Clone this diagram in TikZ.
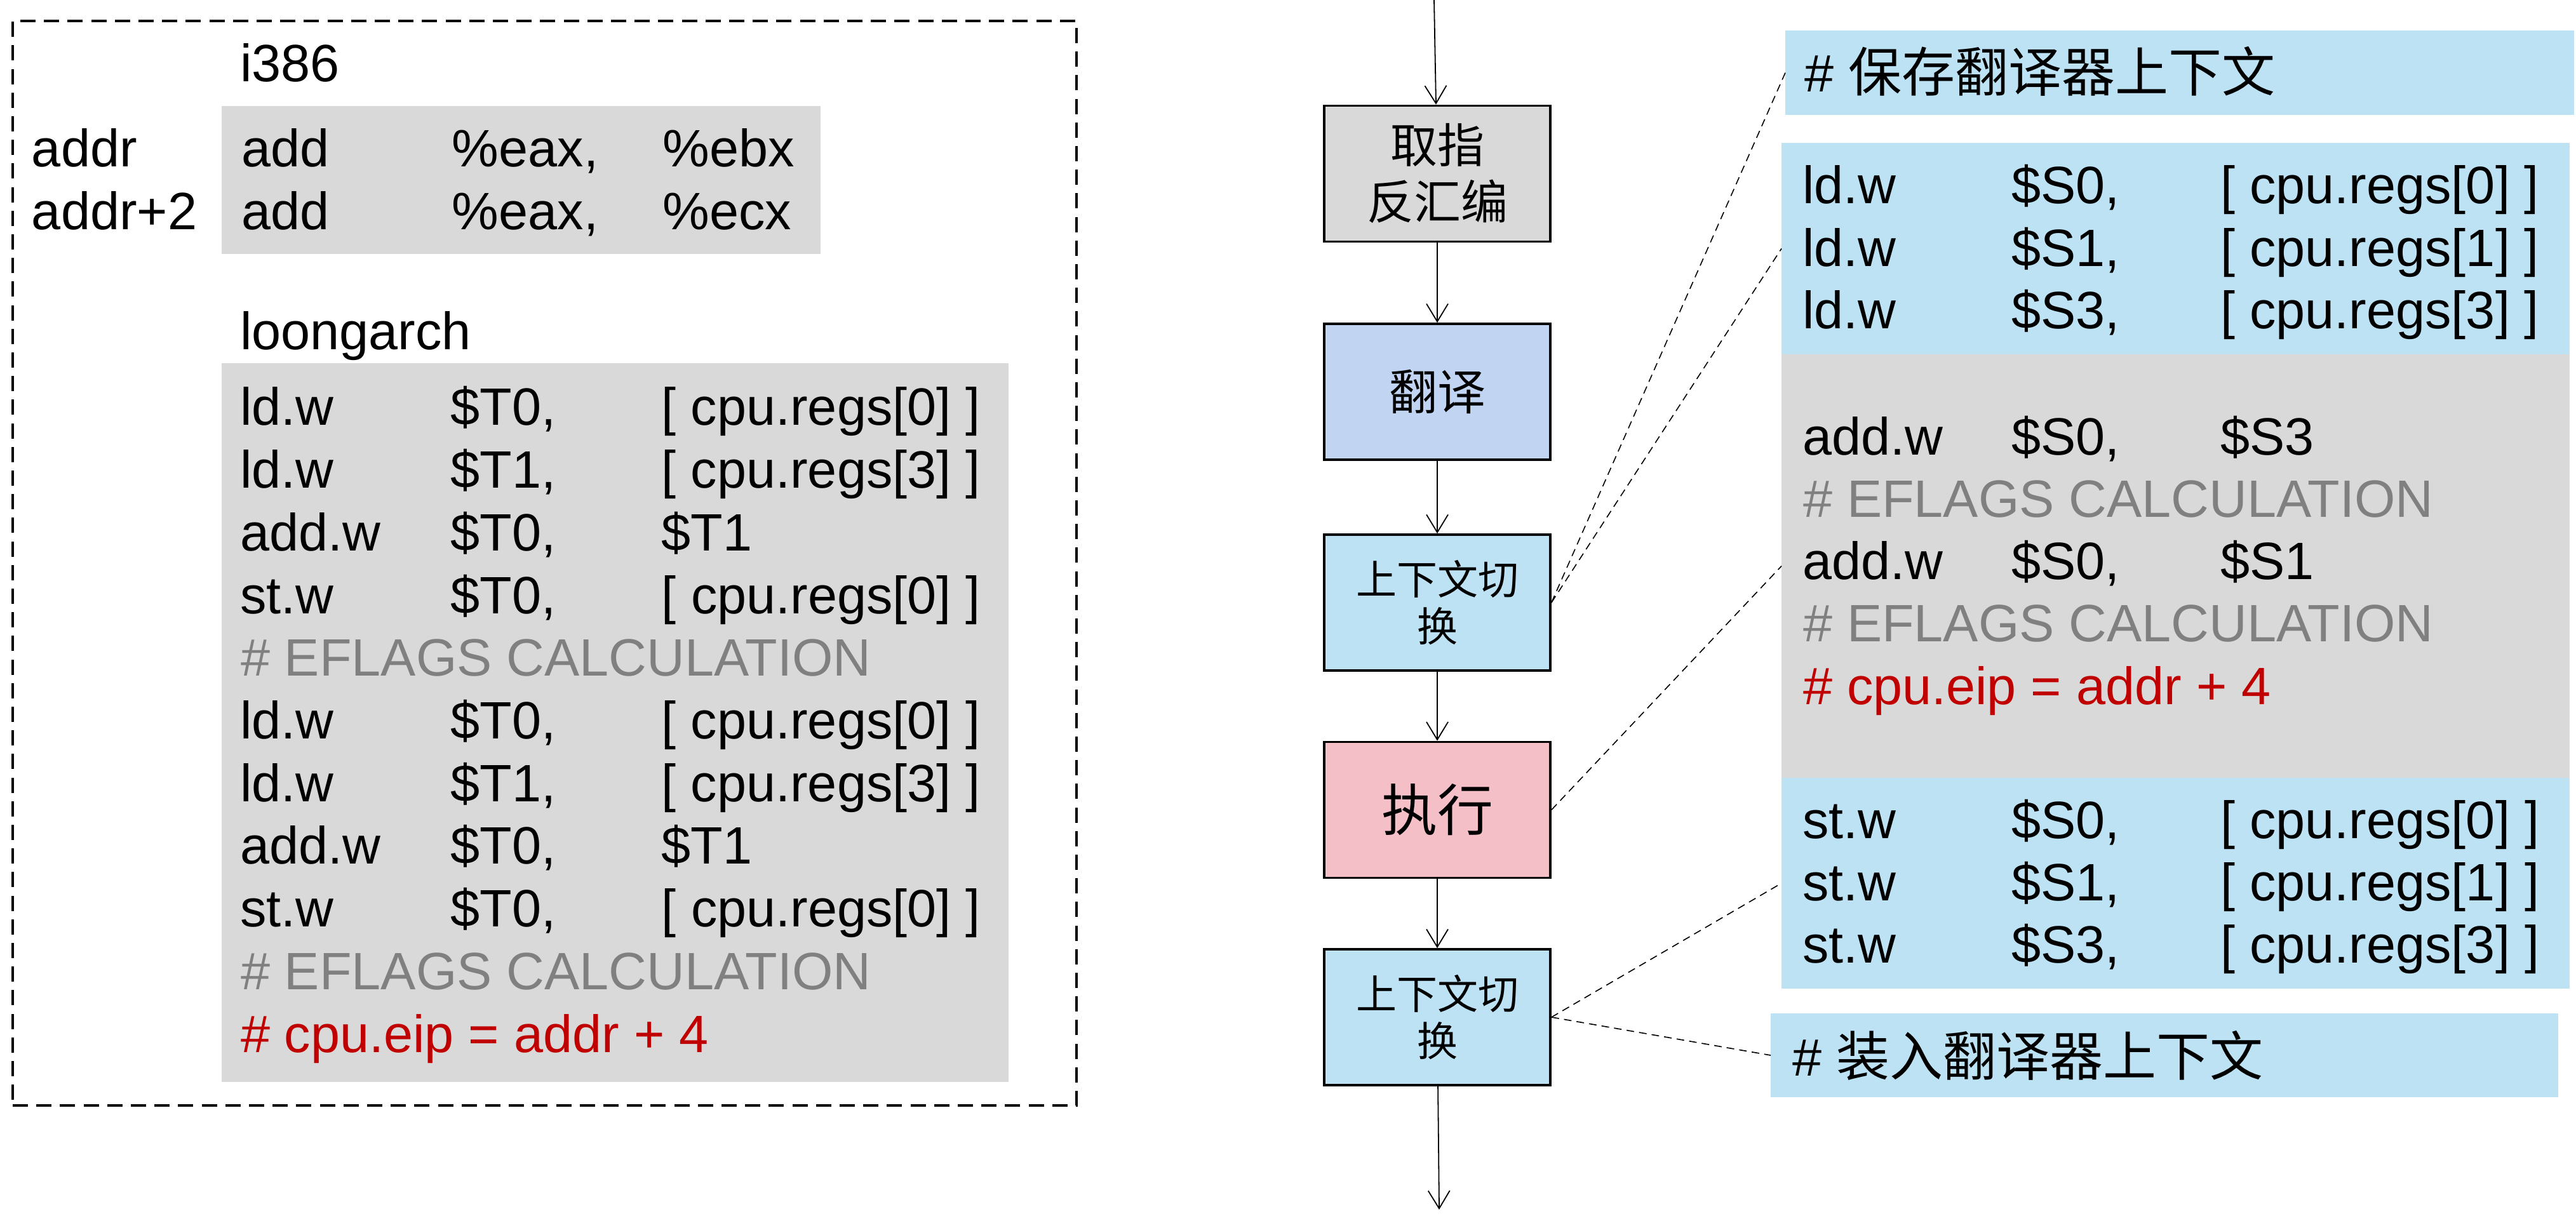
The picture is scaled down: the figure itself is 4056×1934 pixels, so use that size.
\documentclass[tikz,border=0pt]{standalone}
\usepackage{fontspec}
\setmainfont{Liberation Sans}
\newfontfamily\cjk{Noto Sans CJK SC}
\usetikzlibrary{arrows.meta}
\definecolor{codegray}{HTML}{D9D9D9}
\definecolor{ctxblue}{HTML}{BDE2F4}
\definecolor{transblue}{HTML}{C1D5F3}
\definecolor{execpink}{HTML}{F5BFC8}
\definecolor{evred}{HTML}{C00000}
\definecolor{cmtgray}{HTML}{808080}
\newcommand{\asmrow}[4]{\makebox[#1][l]{#2}\makebox[#1][l]{#3}#4}
\begin{document}
\begin{tikzpicture}[x=0.25pt,y=-0.25pt,
  txt/.style={anchor=base west, inner sep=0pt, outer sep=0pt, font=\fontsize{20.7}{24}\selectfont},
  cmt/.style={txt, text=cmtgray},
  evt/.style={txt, text=evred},
  panel/.style={anchor=north west, inner sep=0pt, outer sep=0pt, draw=none},
  flowbox/.style={draw=black, line width=0.9pt, minimum width=89pt, minimum height=53.5pt, inner sep=0pt, align=center},
  flowarrow/.style={line width=0.45pt, -{Straight Barb[length=7pt,width=8.5pt]}},
  leader/.style={line width=0.4pt, dash pattern=on 3pt off 2pt}
]
\useasboundingbox (0,0) rectangle (4056,1934);

% ---------- left panel ----------
\node[panel, draw=black, line width=0.9pt, dash pattern=on 6pt off 3.3pt,
      minimum width=418.75pt, minimum height=427pt] (frame) at (20,33) {};
\node[panel, fill=codegray, minimum width=235.75pt, minimum height=58.25pt] (x86box) at (349,167) {};
\node[panel, fill=codegray, minimum width=309.75pt, minimum height=283pt] (lagbox) at (349,572) {};

\node[txt] (ti386) at (378,129) {i386};
\node[txt] (taddr) at (50,263) {addr};
\node[txt] (taddrb) at (50,362) {addr+2};
\node[txt] (xa) at (380,263) {\asmrow{83pt}{add}{\%eax,}{\%ebx}};
\node[txt] (xb) at (380,362) {\asmrow{83pt}{add}{\%eax,}{\%ecx}};
\node[txt] (tloong) at (378,551) {loongarch};

\node[txt] (la1) at (378,670) {\asmrow{83pt}{ld.w}{\$T0,}{[ cpu.regs[0] ]}};
\node[txt] (la2) at (378,768.7) {\asmrow{83pt}{ld.w}{\$T1,}{[ cpu.regs[3] ]}};
\node[txt] (la3) at (378,867.4) {\asmrow{83pt}{add.w}{\$T0,}{\$T1}};
\node[txt] (la4) at (378,966.1) {\asmrow{83pt}{st.w}{\$T0,}{[ cpu.regs[0] ]}};
\node[cmt] (la5) at (379,1064.8) {\# EFLAGS CALCULATION};
\node[txt] (la6) at (378,1163.5) {\asmrow{83pt}{ld.w}{\$T0,}{[ cpu.regs[0] ]}};
\node[txt] (la7) at (378,1262.2) {\asmrow{83pt}{ld.w}{\$T1,}{[ cpu.regs[3] ]}};
\node[txt] (la8) at (378,1360.9) {\asmrow{83pt}{add.w}{\$T0,}{\$T1}};
\node[txt] (la9) at (378,1459.6) {\asmrow{83pt}{st.w}{\$T0,}{[ cpu.regs[0] ]}};
\node[cmt] (la10) at (379,1558.3) {\# EFLAGS CALCULATION};
\node[evt] (la11) at (379,1657) {\# cpu.eip = addr + 4};

% ---------- flow chart ----------
\coordinate (ftop) at (2258,0);
\coordinate (fbot) at (2266,1905);
\node[flowbox, fill=codegray, font=\cjk\fontsize{18.5}{22.25}\selectfont] (b1) at (2263,273.5) {取指\\反汇编};
\node[flowbox, fill=transblue, font=\cjk\fontsize{19}{22}\selectfont] (b2) at (2263,617) {翻译};
\node[flowbox, fill=ctxblue, font=\cjk\fontsize{16}{18.5}\selectfont] (b3) at (2263,949) {上下文切\\换};
\node[flowbox, fill=execpink, font=\cjk\fontsize{22}{25}\selectfont] (b4) at (2263,1275.5) {执行};
\node[flowbox, fill=ctxblue, font=\cjk\fontsize{16}{18.5}\selectfont] (b5) at (2263,1602) {上下文切\\换};

\draw[flowarrow] (ftop) -- (b1);
\draw[flowarrow] (b1) -- (b2);
\draw[flowarrow] (b2) -- (b3);
\draw[flowarrow] (b3) -- (b4);
\draw[flowarrow] (b4) -- (b5);
\draw[flowarrow] (b5) -- (fbot);

% ---------- right panels ----------
\node[panel, fill=ctxblue, minimum width=310.5pt, minimum height=33.25pt] (save) at (2811,48) {};
\node[panel, fill=ctxblue, minimum width=310.25pt, minimum height=83.25pt] (blueA) at (2805,225) {};
\node[panel, fill=codegray, minimum width=310.25pt, minimum height=166.75pt] (grayR) at (2805,558) {};
\node[panel, fill=ctxblue, minimum width=310.25pt, minimum height=83pt] (blueB) at (2805,1225) {};
\node[panel, fill=ctxblue, minimum width=310pt, minimum height=33pt] (load) at (2788,1596) {};

\node[txt] (tsave) at (2841,145) {\# {\cjk\fontsize{21}{24}\selectfont 保存翻译器上下文}};
\node[txt] (ra1) at (2838,321) {\asmrow{82.3pt}{ld.w}{\$S0,}{[ cpu.regs[0] ]}};
\node[txt] (ra2) at (2838,420) {\asmrow{82.3pt}{ld.w}{\$S1,}{[ cpu.regs[1] ]}};
\node[txt] (ra3) at (2838,518) {\asmrow{82.3pt}{ld.w}{\$S3,}{[ cpu.regs[3] ]}};
\node[txt] (rg1) at (2838,717) {\asmrow{82.3pt}{add.w}{\$S0,}{\$S3}};
\node[cmt] (rg2) at (2839,815) {\# EFLAGS CALCULATION};
\node[txt] (rg3) at (2838,913) {\asmrow{82.3pt}{add.w}{\$S0,}{\$S1}};
\node[cmt] (rg4) at (2839,1011) {\# EFLAGS CALCULATION};
\node[evt] (rg5) at (2839,1109) {\# cpu.eip = addr + 4};
\node[txt] (rb1) at (2838,1320) {\asmrow{82.3pt}{st.w}{\$S0,}{[ cpu.regs[0] ]}};
\node[txt] (rb2) at (2838,1418) {\asmrow{82.3pt}{st.w}{\$S1,}{[ cpu.regs[1] ]}};
\node[txt] (rb3) at (2838,1516) {\asmrow{82.3pt}{st.w}{\$S3,}{[ cpu.regs[3] ]}};
\node[txt] (tload) at (2822,1694) {\# {\cjk\fontsize{21}{24}\selectfont 装入翻译器上下文}};

% ---------- leader lines ----------
\draw[leader] (b3.east) -- (save.west);
\draw[leader] (b3.east) -- (blueA.west);
\draw[leader] (b4.east) -- (grayR.west);
\draw[leader] (b5.east) -- (blueB.west);
\draw[leader] (b5.east) -- (load.west);
\end{tikzpicture}
\end{document}
